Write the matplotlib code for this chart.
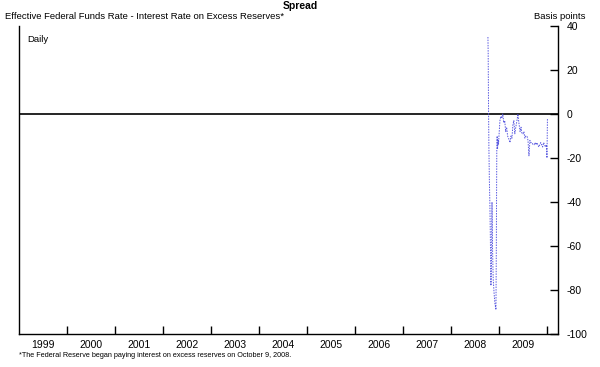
import numpy as np
import matplotlib
matplotlib.use("Agg")
import matplotlib.pyplot as plt

plt.rcParams['font.family'] = ['Liberation Sans', 'DejaVu Sans']
plt.rcParams['axes.unicode_minus'] = False

# Daily spread (basis points); dates as decimal years
dates = [2008.770, 2008.775, 2008.782, 2008.790, 2008.800, 2008.810, 2008.820,
         2008.833, 2008.845, 2008.855, 2008.865, 2008.880, 2008.900, 2008.915,
         2008.937, 2008.945, 2008.955, 2008.962, 2008.970, 2008.980, 2008.990,
         2009.000, 2009.020, 2009.040, 2009.060, 2009.080, 2009.100, 2009.120,
         2009.140, 2009.160, 2009.180, 2009.200, 2009.230, 2009.250, 2009.270,
         2009.290, 2009.310, 2009.330, 2009.350, 2009.375, 2009.395, 2009.415,
         2009.440, 2009.460, 2009.480, 2009.500, 2009.520, 2009.540, 2009.560,
         2009.585, 2009.605, 2009.625, 2009.645, 2009.665, 2009.690, 2009.710,
         2009.730, 2009.750, 2009.770, 2009.790, 2009.810, 2009.830, 2009.850,
         2009.870, 2009.890, 2009.910, 2009.930, 2009.950, 2009.970, 2009.990,
         2010.000, 2010.010]
spread = [35, 28, 5, -15, -30, -40, -55,
          -78, -65, -40, -60, -75, -82, -86,
          -89, -60, -15, -10, -16, -12, -14,
          -10, -3, -1, -2, 0, -4, -3,
          -8, -6, -10, -11, -13, -10, -11,
          -5, -3, -9, -6, -3, 0, -4,
          -8, -6, -9, -9, -8, -11, -10,
          -10, -12, -19, -12, -13, -13, -14,
          -14, -13, -14, -13, -14, -15, -14,
          -13, -14, -15, -13, -14, -15, -14,
          -20, -2]

years = list(range(1999, 2010))

fig = plt.figure(figsize=(6, 3.67), dpi=100)
ax = fig.add_axes([0.0317, 0.0899, 0.8983, 0.8392])

ax.axhline(0, color='black', lw=1.2, zorder=1)
ax.plot(dates, spread, color='#5a5ae0', lw=0.7, linestyle=(0, (1.5, 1.2)), zorder=2)

ax.set_xlim(1999.0, 2010.23)
ax.set_ylim(-100, 40)

ax.spines['top'].set_visible(False)
for s in ['left', 'bottom', 'right']:
    ax.spines[s].set_linewidth(1.0)

# x axis: ticks at year boundaries, labels at mid-year
ax.set_xticks(list(range(2000, 2011)))
ax.set_xticklabels([])
ax.set_xticks([y + 0.5 for y in years], minor=True)
ax.set_xticklabels([str(y) for y in years], minor=True, fontsize=7.5)
ax.tick_params(axis='x', which='major', direction='in', length=6, width=1)
ax.tick_params(axis='x', which='minor', length=0, pad=4)

# y axis on the right
ax.yaxis.tick_right()
ax.set_yticks(range(-100, 41, 20))
ax.tick_params(axis='y', direction='in', length=6, width=1, labelsize=7.5, pad=6)

fig.text(0.5, 0.997, 'Spread', ha='center', va='top', fontsize=7.5, fontweight='bold')
fig.text(0.008, 0.967, 'Effective Federal Funds Rate - Interest Rate on Excess Reserves*',
         ha='left', va='top', fontsize=6.8)
fig.text(0.975, 0.967, 'Basis points', ha='right', va='top', fontsize=6.8)
ax.text(0.015, 0.97, 'Daily', transform=ax.transAxes, ha='left', va='top', fontsize=6.8)
fig.text(0.032, 0.022, '*The Federal Reserve began paying interest on excess reserves on October 9, 2008.',
         ha='left', va='bottom', fontsize=5.2)

fig.savefig('out.png', dpi=100)
